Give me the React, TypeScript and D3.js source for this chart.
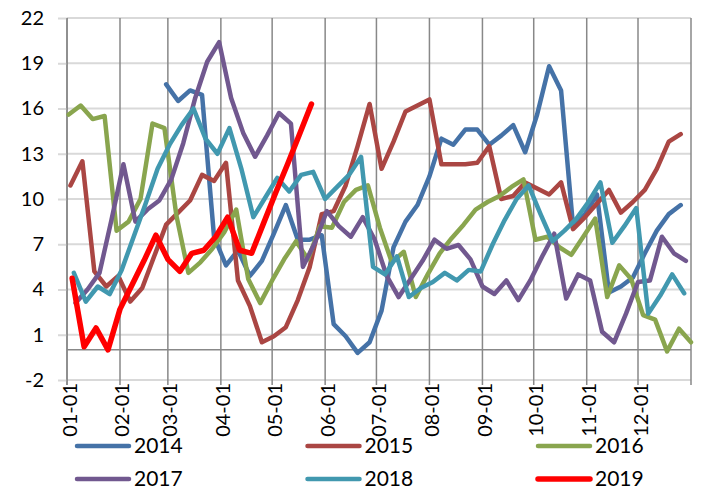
import React, { useRef, useEffect } from "react";
import * as d3 from "d3";

// weekly series, one value per week starting at firstWeek (month-day)
const years = ["2014", "2015", "2016", "2017", "2018", "2019"];
const colors = ["#4572A7", "#AA4643", "#89A54E", "#71588F", "#4198AF", "#FF0000"];
const firstWeek = ["02-28", "01-03", "01-02", "01-06", "01-05", "01-04"];

const s2014 = [17.6, 16.5, 17.2, 16.9, 7.5, 5.6, 6.6, 4.9, 5.9, 7.7, 9.6, 7.3, 7.3, 7.6, 1.7, 0.9, -0.2, 0.5, 2.6, 6.8, 8.5, 9.6, 11.5, 14.0, 13.6, 14.6, 14.6, 13.6, 14.2, 14.9, 13.1, 15.6, 18.8, 17.2, 8.2, 9.0, 10.3, 3.8, 4.2, 4.8, 6.4, 7.9, 9.0, 9.6];
const s2015 = [10.9, 12.5, 5.2, 4.2, 4.9, 3.2, 4.1, 6.2, 8.3, 9.1, 9.9, 11.6, 11.2, 12.4, 4.6, 2.9, 0.5, 0.9, 1.5, 3.3, 5.5, 9.0, 9.2, 10.9, 13.5, 16.3, 12.0, 13.8, 15.8, 16.2, 16.6, 12.3, 12.3, 12.3, 12.4, 13.5, 10.0, 10.2, 11.1, 10.7, 10.3, 11.1, 8.0, 8.8, 9.7, 10.6, 9.1, 9.8, 10.6, 12.0, 13.8, 14.3];
const s2016 = [15.6, 16.2, 15.3, 15.5, 7.9, 8.5, 10.0, 15.0, 14.7, 8.9, 5.1, 5.8, 6.7, 7.8, 9.3, 4.7, 3.1, 4.6, 6.0, 7.2, 6.0, 8.2, 8.1, 9.8, 10.6, 10.9, 8.1, 5.8, 6.5, 3.5, 5.0, 6.4, 7.4, 8.3, 9.3, 9.8, 10.2, 10.8, 11.3, 7.3, 7.5, 6.8, 6.3, 7.5, 8.7, 3.5, 5.6, 4.7, 2.3, 2.0, -0.1, 1.4, 0.5];
const s2017 = [3.1, 4.0, 5.1, 8.6, 12.3, 8.5, 9.3, 9.9, 11.3, 13.7, 16.7, 19.1, 20.4, 16.7, 14.4, 12.8, 14.2, 15.7, 15.0, 5.5, 7.1, 9.2, 8.2, 7.5, 8.8, 7.3, 4.9, 3.5, 4.7, 5.9, 7.3, 6.7, 6.95, 6.0, 4.2, 3.7, 4.6, 3.3, 4.6, 6.2, 7.7, 3.4, 5.0, 4.6, 1.2, 0.5, 2.4, 4.5, 4.6, 7.5, 6.4, 5.9];
const s2018 = [5.1, 3.2, 4.2, 3.7, 5.3, 7.5, 9.7, 12.0, 13.6, 14.9, 16.0, 14.0, 13.0, 14.7, 12.0, 8.8, 10.1, 11.4, 10.5, 11.6, 11.8, 10.0, 10.8, 11.6, 12.8, 5.5, 5.0, 6.2, 3.5, 4.1, 4.5, 5.1, 4.6, 5.3, 5.2, 7.0, 8.6, 10.0, 10.9, 9.0, 7.2, 7.9, 8.7, 9.8, 11.1, 7.1, 8.2, 9.4, 2.4, 3.6, 5.0, 3.75];
const s2019 = [4.75, 0.2, 1.45, 0.0, 2.7, 4.3, 5.9, 7.6, 6.0, 5.2, 6.4, 6.6, 7.5, 8.8, 6.6, 6.4, 8.4, 10.4, 12.3, 14.3, 16.3];

const seriesValues = [s2014, s2015, s2016, s2017, s2018, s2019];
const yTicks = [-2, 1, 4, 7, 10, 13, 16, 19, 22];

const FONT = "Lato, 'Open Sans', sans-serif";

export default function App() {
  const svgRef = useRef<SVGSVGElement>(null);

  useEffect(() => {
    const svg = d3.select(svgRef.current);
    svg.selectAll("*").remove();

    const left = 67, right = 691, top = 18, bottom = 380;
    const start = new Date(2019, 0, 1);
    const end = new Date(2020, 0, 1);

    const x = d3.scaleTime().domain([start, end]).range([left, right]);
    const y = d3.scaleLinear().domain([-2, 22]).range([bottom, top]);

    const months = d3.timeMonth.range(start, end);
    const gridMonths = d3.timeMonth.range(start, d3.timeDay.offset(end, 1));

    // horizontal gridlines
    svg.append("g")
      .selectAll("line")
      .data(yTicks)
      .join("line")
      .attr("x1", left)
      .attr("x2", right)
      .attr("y1", d => y(d))
      .attr("y2", d => y(d))
      .attr("stroke", "#d9d9d9")
      .attr("stroke-width", 2);

    // vertical gridlines at month starts
    svg.append("g")
      .selectAll("line")
      .data(gridMonths)
      .join("line")
      .attr("x1", d => x(d))
      .attr("x2", d => x(d))
      .attr("y1", top)
      .attr("y2", bottom + 5)
      .attr("stroke", "#888")
      .attr("stroke-width", 1.5);

    // y axis (plain hyphen for negatives, like the original)
    const yAxis = svg.append("g")
      .attr("transform", `translate(${left},0)`)
      .call(d3.axisLeft(y).tickValues(yTicks).tickFormat(d => String(d)).tickSize(9).tickPadding(14));
    yAxis.select(".domain").remove();
    yAxis.selectAll(".tick line").attr("stroke", "#d9d9d9").attr("stroke-width", 2);
    yAxis.selectAll(".tick text")
      .style("font-family", FONT)
      .style("font-size", "20px")
      .attr("fill", "#000");

    svg.append("line")
      .attr("x1", left).attr("x2", left)
      .attr("y1", top).attr("y2", bottom + 5)
      .attr("stroke", "#888").attr("stroke-width", 1.5);

    // category axis line crosses at 0
    svg.append("line")
      .attr("x1", left).attr("x2", right)
      .attr("y1", y(0)).attr("y2", y(0))
      .attr("stroke", "#888").attr("stroke-width", 1.5);

    // month labels, rotated
    const xAxis = svg.append("g")
      .attr("transform", `translate(0,${bottom})`)
      .call(d3.axisBottom(x).tickValues(months).tickFormat(d3.timeFormat("%m-%d")).tickSize(0));
    xAxis.select(".domain").remove();
    xAxis.selectAll(".tick text")
      .attr("transform", "rotate(-90)")
      .attr("text-anchor", "end")
      .attr("x", -3)
      .attr("y", 2)
      .attr("dy", "0.35em")
      .style("font-family", FONT)
      .style("font-size", "20px")
      .attr("fill", "#000");

    // series
    const line = d3.line<{ date: Date; value: number }>()
      .x(d => x(d.date))
      .y(d => y(d.value));

    seriesValues.forEach((vals, k) => {
      const [m, dd] = firstWeek[k].split("-").map(Number);
      const first = new Date(2019, m - 1, dd);
      const pts = vals.map((v, i) => ({ date: d3.timeDay.offset(first, 7 * i), value: v }));
      svg.append("path")
        .datum(pts)
        .attr("d", line)
        .attr("fill", "none")
        .attr("stroke", colors[k])
        .attr("stroke-width", years[k] === "2019" ? 5.5 : 4.5)
        .attr("stroke-linejoin", "round")
        .attr("stroke-linecap", "round");
    });

    // legend
    const legX = d3.scalePoint<number>().domain([0, 1, 2]).range([77, 538]);
    const legY = d3.scalePoint<number>().domain([0, 1]).range([446, 479]);
    const leg = svg.append("g")
      .selectAll("g")
      .data(years)
      .join("g")
      .attr("transform", (d, i) => `translate(${legX(i % 3)},${legY(Math.floor(i / 3))})`);
    leg.append("line")
      .attr("x1", 0).attr("x2", 52)
      .attr("stroke", (d, i) => colors[i])
      .attr("stroke-width", (d, i) => (i === 5 ? 5.5 : 4.5))
      .attr("stroke-linecap", "round");
    leg.append("text")
      .attr("x", 57)
      .attr("dy", "0.35em")
      .style("font-family", FONT)
      .style("font-size", "21px")
      .attr("fill", "#000")
      .text(d => d);
  }, []);

  return (
    <svg
      ref={svgRef}
      width={708}
      height={498}
      style={{ position: "absolute", left: 0, top: 0, background: "#fff" }}
    />
  );
}
